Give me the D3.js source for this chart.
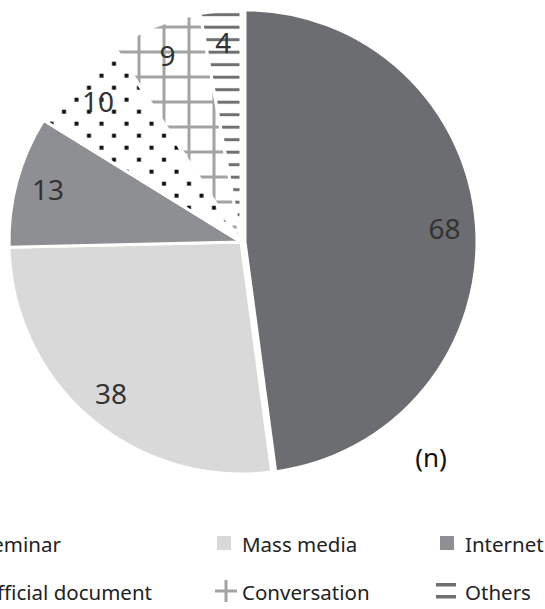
<!DOCTYPE html>
<html><head><meta charset="utf-8">
<script src="https://cdn.jsdelivr.net/npm/d3@7"></script>
<style>html,body{margin:0;padding:0;background:#fff;overflow:hidden}</style>
</head><body><svg id="chart" width="545" height="609"></svg>
<script>
// ---- data ----
const categories = ["Seminar", "Mass media", "Internet", "Official document", "Conversation", "Others"];
const values = [68, 38, 13, 10, 9, 4];
const unitLabel = "(n)";

// ---- styles ----
const fills = ["#6c6d71", "#d9d9d9", "#8e8f92", "url(#pDots)", "url(#pGrid)", "url(#pLines)"];
const width = 545, height = 609;
const cx = 241, cy = 242, R = 232, labelR = 200, explode = 4;

const svg = d3.select("#chart");
const defs = svg.append("defs");

// dotted pattern
const pd = defs.append("pattern").attr("id", "pDots").attr("patternUnits", "userSpaceOnUse")
  .attr("x", 16.75).attr("y", 7.7).attr("width", 25).attr("height", 24);
pd.append("rect").attr("width", 25).attr("height", 24).attr("fill", "#fff");
pd.append("rect").attr("x", 4.25).attr("y", 4).attr("width", 4).attr("height", 4).attr("fill", "#111");
pd.append("rect").attr("x", 16.75).attr("y", 16).attr("width", 4).attr("height", 4).attr("fill", "#111");

// grid pattern
const pg = defs.append("pattern").attr("id", "pGrid").attr("patternUnits", "userSpaceOnUse")
  .attr("x", 23 - 12.5).attr("y", 10 - 12.5).attr("width", 25).attr("height", 25);
pg.append("rect").attr("width", 25).attr("height", 25).attr("fill", "#fff");
pg.append("rect").attr("x", 11).attr("y", 0).attr("width", 3).attr("height", 25).attr("fill", "#a3a3a5");
pg.append("rect").attr("x", 0).attr("y", 11).attr("width", 25).attr("height", 3).attr("fill", "#a3a3a5");

// horizontal lines pattern
const pl = defs.append("pattern").attr("id", "pLines").attr("patternUnits", "userSpaceOnUse")
  .attr("x", 0).attr("y", 10.2 - 6.25).attr("width", 25).attr("height", 12.5);
pl.append("rect").attr("width", 25).attr("height", 12.5).attr("fill", "#fff");
pl.append("rect").attr("x", 0).attr("y", 4.75).attr("width", 25).attr("height", 3).attr("fill", "#6f7073");

const pie = d3.pie().sort(null).value(d => d.v).startAngle(0).endAngle(2 * Math.PI);
const arcs = pie(categories.map((c, i) => ({ c, v: values[i], i })));
const arc = d3.arc().innerRadius(0).outerRadius(R);
const labelArc = d3.arc().innerRadius(labelR).outerRadius(labelR);

function offset(d) {
  if (d.index !== 0) return [0, 0];
  const a = (d.startAngle + d.endAngle) / 2;
  return [Math.sin(a) * explode, -Math.cos(a) * explode];
}

const g = svg.append("g").attr("transform", `translate(${cx},${cy})`);
g.selectAll("path.slice").data(arcs).join("path")
  .attr("class", "slice")
  .attr("d", arc)
  .attr("transform", d => `translate(${offset(d)})`)
  .attr("fill", d => fills[d.index])
  .attr("stroke", "#fff").attr("stroke-width", 3).attr("stroke-linejoin", "round");

g.selectAll("text.lbl").data(arcs).join("text")
  .attr("class", "lbl")
  .attr("transform", d => {
    const c = labelArc.centroid(d), o = offset(d);
    return `translate(${c[0] + o[0]},${c[1] + o[1]})`;
  })
  .attr("text-anchor", "middle").attr("dy", "0.36em")
  .attr("font-family", "'Noto Sans', 'Open Sans', sans-serif").attr("font-size", 28)
  .attr("fill", "#333")
  .text(d => d.data.v);

svg.append("text").attr("x", 431).attr("y", 467).attr("text-anchor", "middle")
  .attr("font-family", "'Noto Sans', 'Open Sans', sans-serif").attr("font-size", 26).attr("fill", "#111")
  .text(unitLabel);

// ---- legend ----
const colX = [-19, 242, 465];
const rowBase = [552, 600];
const legend = svg.append("g").attr("font-family", "'Noto Sans', 'Liberation Sans', sans-serif")
  .attr("font-size", 20.5).attr("fill", "#222");
categories.forEach((c, i) => {
  const col = i % 3, row = Math.floor(i / 3);
  const tx = colX[col], by = rowBase[row];
  const mx = tx - 25, my = by - 9;
  const item = legend.append("g");
  if (i < 4) {
    item.append("rect").attr("x", mx).attr("y", my - 7).attr("width", 14).attr("height", 14).attr("fill", fills[i]);
  } else if (i === 4) {
    item.append("rect").attr("x", mx - 2).attr("y", my - 1.5).attr("width", 22).attr("height", 3).attr("fill", "#a3a3a5");
    item.append("rect").attr("x", mx + 7.5).attr("y", my - 11).attr("width", 3).attr("height", 22).attr("fill", "#a3a3a5");
  } else {
    item.append("rect").attr("x", mx - 4).attr("y", my - 8).attr("width", 20).attr("height", 3.5).attr("fill", "#6f7073");
    item.append("rect").attr("x", mx - 4).attr("y", my + 4).attr("width", 20).attr("height", 3.5).attr("fill", "#6f7073");
  }
  item.append("text").attr("x", tx).attr("y", by).text(c);
});
</script>
</body></html>
